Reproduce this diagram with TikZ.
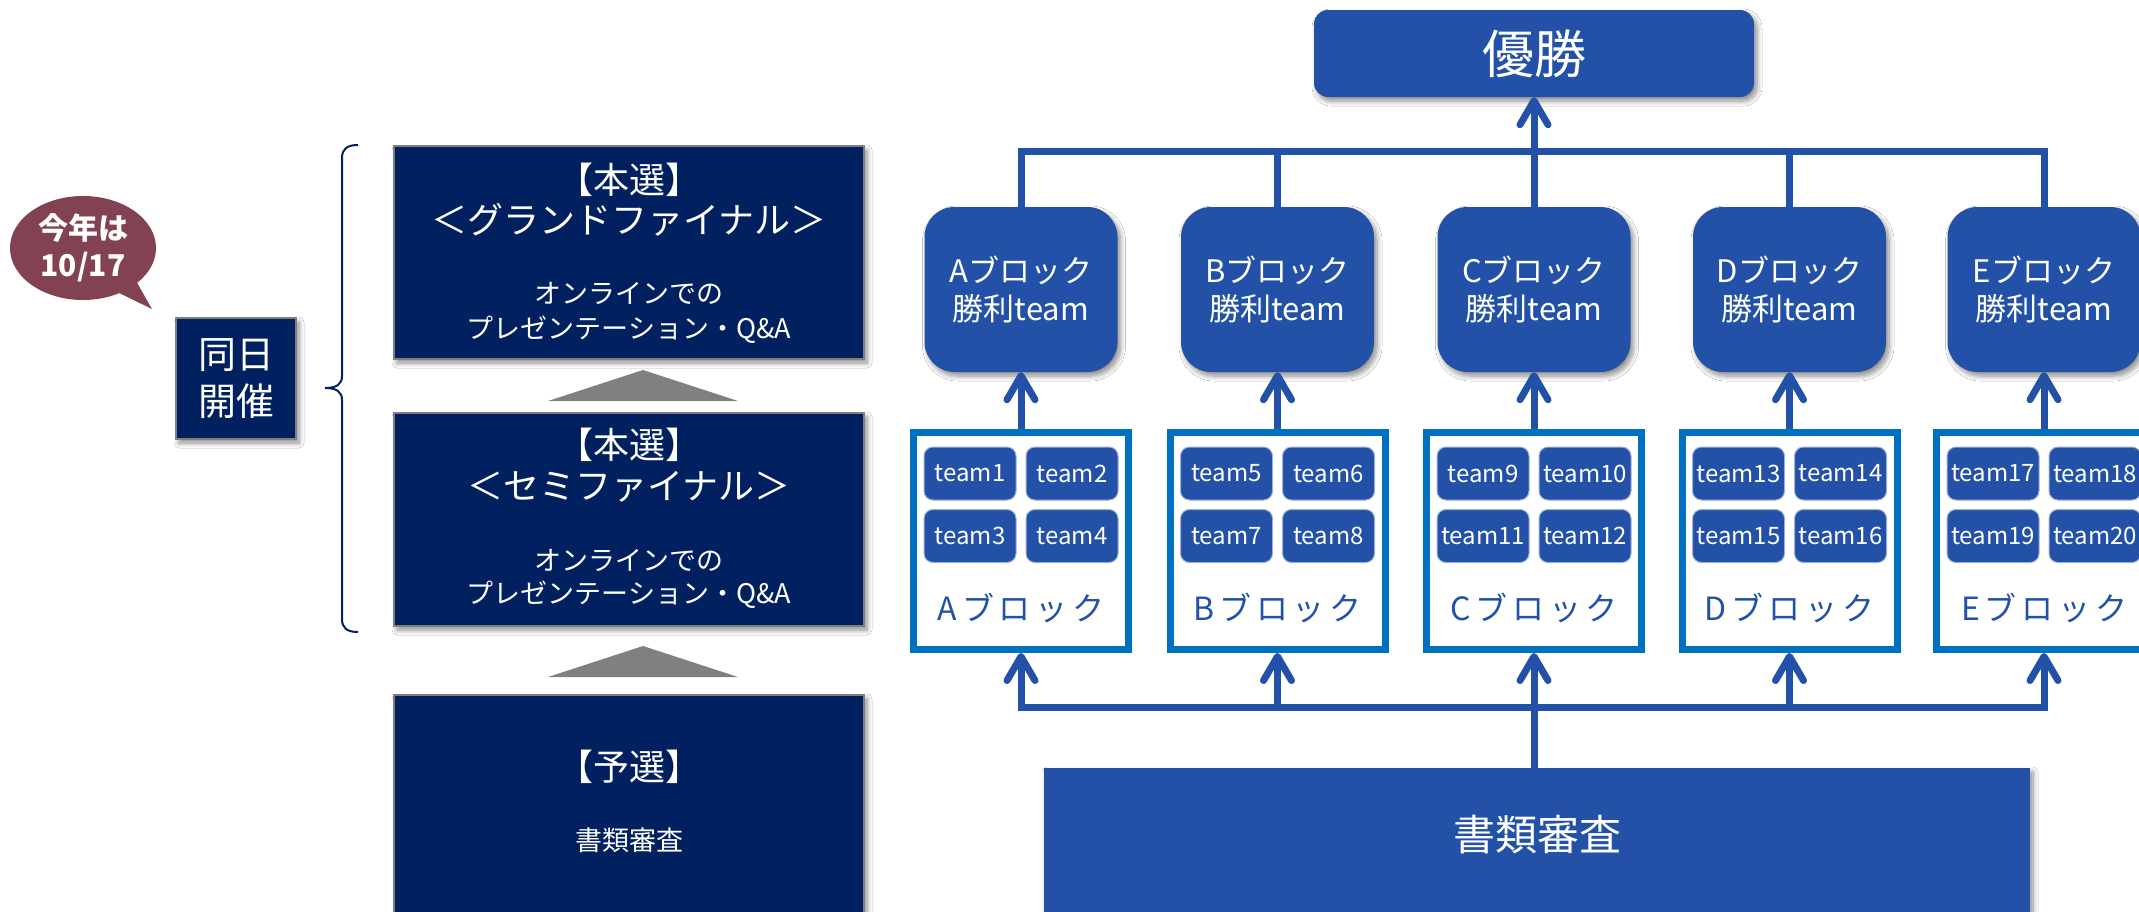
\documentclass[tikz,border=0pt]{standalone}
\usepackage{fontspec}
\setmainfont{Noto Sans CJK JP}
\newfontfamily\spacedjp[LetterSpace=15]{Noto Sans CJK JP}
\usetikzlibrary{arrows.meta,shadows,shadows.blur,shapes.callouts}
\definecolor{navybox}{RGB}{0,32,96}
\definecolor{boxblue}{RGB}{34,81,167}
\definecolor{blockline}{RGB}{0,112,192}
\definecolor{balloonred}{RGB}{131,66,82}
\definecolor{trigray}{RGB}{128,128,128}
\definecolor{edgegray}{RGB}{127,127,127}
\tikzset{
  softshadow/.style={blur shadow={shadow xshift=3pt,shadow yshift=-4pt,shadow blur steps=8,shadow blur radius=5pt,shadow opacity=45}},
  darkbox/.style={fill=navybox,draw=edgegray,line width=2.5pt,minimum width=470pt,minimum height=213pt,inner sep=0pt,softshadow},
  ltext/.style={text=white,inner sep=0pt},
  fbig/.style={font=\fontsize{36pt}{42pt}\selectfont},
  fsmall/.style={font=\fontsize{27pt}{32pt}\selectfont},
  winner/.style={fill=boxblue,rounded corners=30pt,minimum width=193pt,minimum height=165pt,inner sep=0pt,text=white,align=center,font=\fontsize{31pt}{38pt}\selectfont,softshadow},
  blockbox/.style={draw=blockline,line width=7pt,fill=white,minimum width=215pt,minimum height=217pt,inner sep=0pt},
  teambox/.style={fill=boxblue,draw=boxblue!45!white,line width=1pt,rounded corners=9pt,minimum width=92pt,minimum height=53pt,inner sep=0pt,text=white,font=\fontsize{24pt}{28pt}\selectfont},
  blocklabel/.style={text=boxblue,inner sep=0pt,font=\spacedjp\fontsize{32pt}{38pt}\selectfont},
  conn/.style={draw=boxblue,line width=7pt},
  arr/.style={conn,-{Straight Barb[length=24pt,width=28pt,round]}}
}
\begin{document}
\begin{tikzpicture}[x=1pt,y=-1pt]
\useasboundingbox (0,0) rectangle (2139,911);
\fill[white] (0,0) rectangle (2139,911);
\clip (0,0) rectangle (2139,911);

% balloon
\node[ellipse callout,fill=balloonred,minimum width=146pt,minimum height=104pt,inner sep=0pt,
  callout absolute pointer={(152,309)},callout pointer arc=18,text=white,align=center,
  font=\bfseries\fontsize{30pt}{37pt}\selectfont] (balloon) at (83,248) {今年は\\10/17};

% same day box
\node[fill=navybox,draw=edgegray,line width=2.5pt,minimum width=120pt,minimum height=121pt,inner sep=0pt,
  text=white,align=center,font=\fontsize{38pt}{47pt}\selectfont,softshadow] (sameday) at (236,378.5) {同日\\開催};

% brace
\draw[navybox,line width=2pt] (358,145) .. controls (347,145) and (342,149) .. (342,158)
  -- (342,376) .. controls (342,384) and (337,388) .. (325,388)
  .. controls (337,388) and (342,392) .. (342,400)
  -- (342,619) .. controls (342,628) and (347,632) .. (358,632);

% left column
\node[darkbox] (gf) at (629,252.5) {};
\node[ltext,fbig] (gf1) at (629,180) {【本選】};
\node[ltext,fbig] (gf2) at (629,220) {＜グランドファイナル＞};
\node[ltext,fsmall] (gf3) at (629,293) {オンラインでの};
\node[ltext,fsmall] (gf4) at (629,330) {プレゼンテーション・Q\&A};

\fill[trigray] (548,401) -- (643,370) -- (738,401) -- cycle;

\node[darkbox] (sf) at (629,519.5) {};
\node[ltext,fbig] (sf1) at (629,445) {【本選】};
\node[ltext,fbig] (sf2) at (629,487) {＜セミファイナル＞};
\node[ltext,fsmall] (sf3) at (629,560) {オンラインでの};
\node[ltext,fsmall] (sf4) at (629,595) {プレゼンテーション・Q\&A};

\fill[trigray] (548,677) -- (643,646) -- (738,677) -- cycle;

\node[darkbox,minimum height=300pt] (pre) at (629,845) {};
\node[ltext,fbig] (pre1) at (629,767) {【予選】};
\node[ltext,fsmall] (pre2) at (629,840) {書類審査};

% right side
\node[fill=boxblue,rounded corners=14pt,minimum width=440pt,minimum height=87pt,inner sep=0pt,
  text=white,font=\fontsize{52pt}{60pt}\selectfont,softshadow] (win) at (1534,53.5) {優勝};

\node[fill=boxblue,minimum width=986pt,minimum height=300pt,inner sep=0pt,softshadow] (shorui) at (1537,918) {};
\node[text=white,inner sep=0pt,font=\fontsize{42pt}{50pt}\selectfont] (shoruitext) at (1537,835) {書類審査};

\coordinate (bt) at (1534,151);
\coordinate (bb) at (1534,707);

\foreach \L/\x/\lab [count=\i from 0] in {A/1021/{A\kern5pt ブロック},B/1277.5/{Bブロック},C/1534/{Cブロック},D/1789.5/{Dブロック},E/2044/{Eブロック}}{
  \pgfmathtruncatemacro\na{4*\i+1}
  \pgfmathtruncatemacro\nb{4*\i+2}
  \pgfmathtruncatemacro\nc{4*\i+3}
  \pgfmathtruncatemacro\nd{4*\i+4}
  \node[winner] (w\L) at (\x,289.5) {\L ブロック\\勝利team};
  \node[blockbox] (b\L) at (\x,541) {};
  \node[teambox] (t\L a) at (\x-51,473.5) {team\na};
  \node[teambox] (t\L b) at (\x+51,473.5) {team\nb};
  \node[teambox] (t\L c) at (\x-51,536) {team\nc};
  \node[teambox] (t\L d) at (\x+51,536) {team\nd};
  \node[blocklabel] (l\L) at (\x,608) {\lab};
  \draw[arr] (b\L.north) -- (w\L.south);
  \draw[arr] (b\L.south |- bb) -- (b\L.south);
  \draw[conn] (w\L.north) -- (w\L.north |- bt);
}

\draw[conn,line cap=rect] (wA.north |- bt) -- (wE.north |- bt);
\draw[arr] (bt) -- (win.south);
\draw[conn,line cap=rect] (bA.south |- bb) -- (bE.south |- bb);
\draw[conn] (bb) -- (bb |- shorui.north);
\end{tikzpicture}
\end{document}
